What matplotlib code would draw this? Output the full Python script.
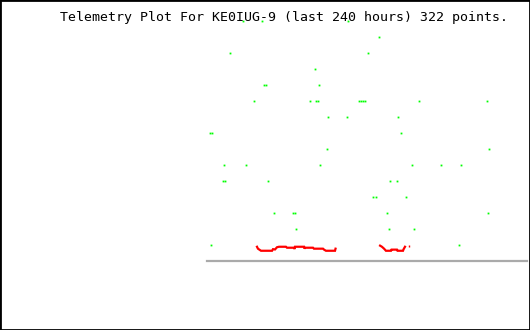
import numpy as np
import matplotlib
matplotlib.use('Agg')
import matplotlib.pyplot as plt
from matplotlib.patches import Rectangle

TITLE = 'Telemetry Plot For KE0IUG-9 (last 240 hours) 322 points.'

# green channel: hours into the window, quantised level
GREEN_HOURS = [27.0, 41.2, 105.8,
               129.0,
               17.2, 120.8,
               81.0,
               42.8, 44.2, 84.0,
               35.2, 77.2, 81.8, 83.2, 114.0, 115.5, 117.0, 118.5, 159.0, 210.0,
               90.8, 105.0, 143.2,
               2.2, 3.8, 145.5,
               90.0, 211.5,
               12.8, 29.2, 84.8, 153.8, 175.5, 190.5,
               12.0, 13.5, 45.8, 137.2, 142.5,
               124.5, 126.8, 149.2,
               50.2, 64.5, 66.0, 135.0, 210.8,
               66.8, 136.5, 155.2,
               3.0, 189.0]
GREEN_LEVEL = [15, 15, 15,
               14,
               13, 13,
               12,
               11, 11, 11,
               10, 10, 10, 10, 10, 10, 10, 10, 10, 10,
               9, 9, 9,
               8, 8, 8,
               7, 7,
               6, 6, 6, 6, 6, 6,
               5, 5, 5, 5, 5,
               4, 4, 4,
               3, 3, 3, 3, 3,
               2, 2, 2,
               1, 1]

# red channel, two runs with a gap between them
RED_HOURS_1 = [37.5, 38.2, 40.5, 48.8, 49.5, 51.0, 52.5, 54.0, 59.2, 60.0,
               65.2, 65.6, 66.0, 72.8, 73.1, 73.5, 79.5, 80.2, 87.0, 87.8,
               89.2, 96.0, 96.4]
RED_LEVEL_1 = [0.89, 0.77, 0.64, 0.64, 0.74, 0.72, 0.86, 0.89, 0.89, 0.83,
               0.83, 0.75, 0.89, 0.89, 0.77, 0.83, 0.83, 0.77, 0.77, 0.71,
               0.64, 0.64, 0.77]
RED_HOURS_2 = [129.8, 131.2, 132.8, 134.2, 138.0, 138.4, 142.5, 142.9, 147.0,
               147.4, 148.5]
RED_LEVEL_2 = [0.96, 0.89, 0.77, 0.64, 0.64, 0.71, 0.71, 0.64, 0.64, 0.73, 0.89]
RED_HOURS_3 = [151.5]
RED_LEVEL_3 = [0.96]

fig = plt.figure(figsize=(5.3, 3.3), dpi=100)
fig.patch.set_facecolor('white')

ax = fig.add_axes([207 / 530, 69 / 330, 320 / 530, 256 / 330])
ax.set_xlim(0, 240)
ax.set_ylim(0, 16)
ax.axis('off')

ax.axhline(0, color='#aaaaaa', lw=1.6, xmax=1.0, clip_on=False)

ax.plot(RED_HOURS_1, RED_LEVEL_1, color='#ff0000', lw=1.6, solid_joinstyle='miter')
ax.plot(RED_HOURS_2, RED_LEVEL_2, color='#ff0000', lw=1.6, solid_joinstyle='miter')
ax.plot(RED_HOURS_3, RED_LEVEL_3, color='#ff0000', marker='|', ms=2, mew=1,
        linestyle='none')

ax.plot(GREEN_HOURS, GREEN_LEVEL, color='#00ff00', marker='s', ms=1.3, mew=0,
        linestyle='none', clip_on=False, zorder=5, antialiased=False)

fig.text(60 / 530, 1 - 21 / 330, TITLE, family='DejaVu Sans Mono',
         fontsize=9.5, ha='left', va='baseline', color='black')

fig.patches.append(Rectangle((0, 0), 1, 1, transform=fig.transFigure,
                             fill=False, ec='black', lw=2))

fig.savefig('out.png', dpi=100)
